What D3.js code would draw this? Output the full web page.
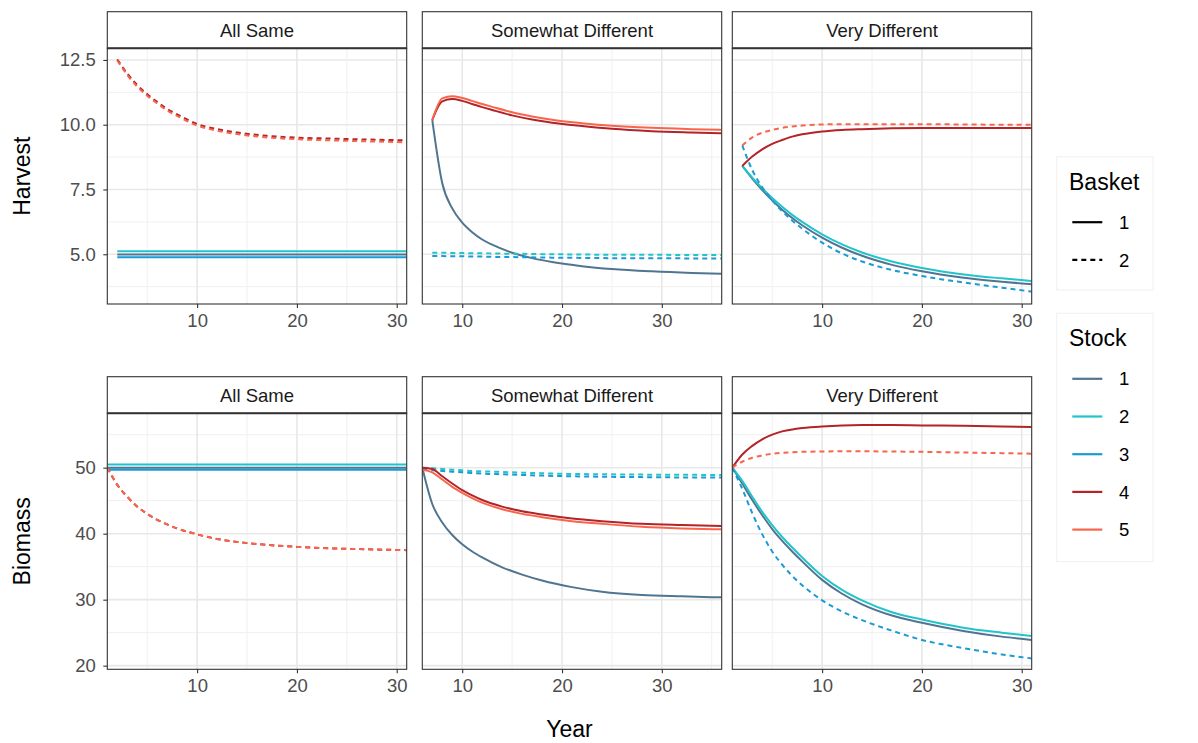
<!DOCTYPE html>
<html>
<head>
<meta charset="utf-8">
<script src="https://cdn.jsdelivr.net/npm/d3@7"></script>
<style>
  body { margin: 0; background: #fff; }
  svg text { font-family: "Liberation Sans", Arial, Helvetica, sans-serif; }
</style>
</head>
<body>
<svg id="chart" width="1198" height="743"></svg>
<script>
// ---- data ----
var scenarios = ["All Same", "Somewhat Different", "Very Different"]
var stocks = ["1", "2", "3", "4", "5"]
var baskets = ["1", "2"]

// basket of stock 1..5 in each scenario
var basketAllSame = ["1", "1", "1", "2", "2"]
var basketSomewhat = ["1", "2", "2", "1", "1"]
var basketVery = ["1", "1", "2", "1", "2"]

var yearsHarvestA = [2, 3, 4, 5, 6, 7, 8, 10, 12, 14, 17, 20, 24, 28, 31]
var yearsBiomassA = [1, 2, 3, 4, 5, 6, 7, 8, 10, 12, 14, 17, 20, 24, 28, 31]
var yearsHarvestB = [7, 8, 9, 10, 11, 12, 13, 15, 17, 19, 22, 25, 29, 33, 36]
var yearsBiomassB = [6, 7, 8, 9, 10, 11, 12, 14, 16, 18, 21, 24, 28, 32, 36]

// one row per stock (1..5)
var harvestAllSame = [
  [4.99, 4.99, 4.99, 4.99, 4.99, 4.99, 4.99, 4.99, 4.99, 4.99, 4.99, 4.99, 4.99, 4.99, 4.99],
  [5.12, 5.12, 5.12, 5.12, 5.12, 5.12, 5.12, 5.12, 5.12, 5.12, 5.12, 5.12, 5.12, 5.12, 5.12],
  [4.88, 4.88, 4.88, 4.88, 4.88, 4.88, 4.88, 4.88, 4.88, 4.88, 4.88, 4.88, 4.88, 4.88, 4.88],
  [12.52, 11.98, 11.53, 11.18, 10.88, 10.61, 10.40, 10.03, 9.83, 9.70, 9.57, 9.50, 9.46, 9.42, 9.40],
  [12.48, 11.92, 11.47, 11.12, 10.82, 10.55, 10.34, 9.97, 9.77, 9.64, 9.51, 9.44, 9.39, 9.35, 9.32]
]
var harvestSomewhat = [
  [10.18, 7.74, 6.77, 6.22, 5.85, 5.57, 5.37, 5.06, 4.85, 4.70, 4.54, 4.43, 4.34, 4.28, 4.25],
  [5.06, 5.06, 5.05, 5.05, 5.04, 5.04, 5.03, 5.02, 5.01, 5.00, 4.99, 4.98, 4.98, 4.97, 4.97],
  [4.93, 4.93, 4.92, 4.92, 4.91, 4.91, 4.90, 4.89, 4.88, 4.87, 4.86, 4.85, 4.85, 4.84, 4.84],
  [10.18, 10.90, 10.99, 10.92, 10.80, 10.68, 10.57, 10.36, 10.20, 10.08, 9.95, 9.84, 9.75, 9.70, 9.67],
  [10.18, 11.02, 11.10, 11.03, 10.92, 10.80, 10.69, 10.48, 10.32, 10.19, 10.06, 9.96, 9.88, 9.83, 9.80]
]
var harvestVery = [
  [8.41, 7.92, 7.48, 7.08, 6.72, 6.40, 6.12, 5.64, 5.25, 4.94, 4.59, 4.34, 4.10, 3.94, 3.84],
  [8.41, 7.96, 7.55, 7.17, 6.83, 6.52, 6.25, 5.77, 5.38, 5.07, 4.72, 4.47, 4.23, 4.07, 3.97],
  [9.20, 8.25, 7.58, 7.08, 6.66, 6.30, 5.99, 5.45, 5.03, 4.72, 4.39, 4.16, 3.92, 3.71, 3.56],
  [8.41, 8.77, 9.05, 9.26, 9.41, 9.54, 9.63, 9.74, 9.80, 9.83, 9.86, 9.87, 9.87, 9.87, 9.87],
  [9.20, 9.51, 9.69, 9.80, 9.88, 9.93, 9.97, 10.01, 10.02, 10.02, 10.02, 10.02, 10.01, 10.00, 10.00]
]

var biomassAllSame = [
  [50.0, 50.0, 50.0, 50.0, 50.0, 50.0, 50.0, 50.0, 50.0, 50.0, 50.0, 50.0, 50.0, 50.0, 50.0, 50.0],
  [50.5, 50.5, 50.5, 50.5, 50.5, 50.5, 50.5, 50.5, 50.5, 50.5, 50.5, 50.5, 50.5, 50.5, 50.5, 50.5],
  [49.7, 49.7, 49.7, 49.7, 49.7, 49.7, 49.7, 49.7, 49.7, 49.7, 49.7, 49.7, 49.7, 49.7, 49.7, 49.7],
  [50.0, 47.4, 45.6, 44.1, 43.0, 42.1, 41.4, 40.8, 39.9, 39.2, 38.75, 38.3, 38.0, 37.75, 37.6, 37.5],
  [50.0, 47.4, 45.6, 44.1, 43.0, 42.1, 41.4, 40.8, 39.9, 39.2, 38.75, 38.3, 38.0, 37.75, 37.6, 37.5]
]
var biomassSomewhat = [
  [50.0, 44.5, 41.7, 39.8, 38.4, 37.3, 36.4, 34.9, 33.8, 32.9, 31.9, 31.2, 30.7, 30.5, 30.35],
  [50.0, 49.9, 49.8, 49.7, 49.6, 49.5, 49.45, 49.35, 49.25, 49.15, 49.05, 49.0, 48.95, 48.92, 48.9],
  [49.7, 49.6, 49.5, 49.4, 49.3, 49.2, 49.1, 49.0, 48.9, 48.8, 48.7, 48.63, 48.57, 48.52, 48.5],
  [50.0, 49.8, 48.7, 47.6, 46.6, 45.8, 45.1, 44.1, 43.4, 42.9, 42.3, 41.9, 41.5, 41.3, 41.15],
  [49.7, 49.3, 48.2, 47.1, 46.2, 45.4, 44.7, 43.7, 43.0, 42.5, 41.9, 41.5, 41.05, 40.8, 40.66]
]
var biomassVery = [
  [50.0, 47.6, 45.1, 42.8, 40.7, 38.9, 37.3, 35.8, 33.0, 30.9, 29.3, 27.6, 26.5, 25.3, 24.4, 23.9],
  [50.0, 48.0, 45.6, 43.3, 41.3, 39.5, 37.9, 36.4, 33.6, 31.5, 29.9, 28.1, 27.0, 25.8, 25.0, 24.5],
  [50.0, 46.8, 43.1, 39.9, 37.3, 35.3, 33.6, 32.2, 29.9, 28.2, 26.9, 25.3, 23.9, 22.7, 21.7, 21.1],
  [50.0, 52.0, 53.3, 54.3, 55.0, 55.5, 55.8, 56.0, 56.25, 56.4, 56.45, 56.45, 56.4, 56.35, 56.25, 56.15],
  [50.0, 50.9, 51.5, 51.85, 52.1, 52.25, 52.35, 52.4, 52.45, 52.48, 52.48, 52.45, 52.4, 52.3, 52.2, 52.12]
]

var harvestLimits = [3.08, 12.95]
var biomassLimits = [19.45, 58.24]
var yearLimits = [[1, 31], [6, 36], [1, 31]]
var harvestTicks = [5, 7.5, 10, 12.5]
var harvestMinor = [3.75, 6.25, 8.75, 11.25]
var biomassTicks = [20, 30, 40, 50]
var biomassMinor = [25, 35, 45, 55]
var yearTicks = [10, 20, 30]
var yearMinor = [5, 15, 25, 35]

// ---- layout ----
var svg = d3.select("#chart")
var colLeft = [107.3, 422.3, 732.3]
var panelW = 299.4
var smallFont = "18.5px"
var titleFont = "23px"
var rows = [
  {name: "Harvest", stripTop: 11.7, top: 48.3, h: 255.7, limits: harvestLimits, ticks: harvestTicks, minor: harvestMinor, fmt: d3.format(".1f"),
   series: [harvestAllSame, harvestSomewhat, harvestVery], years: [yearsHarvestA, yearsHarvestB, yearsHarvestA]},
  {name: "Biomass", stripTop: 376.7, top: 413.3, h: 256, limits: biomassLimits, ticks: biomassTicks, minor: biomassMinor, fmt: d3.format("d"),
   series: [biomassAllSame, biomassSomewhat, biomassVery], years: [yearsBiomassA, yearsBiomassB, yearsBiomassA]}
]
var basketOf = [basketAllSame, basketSomewhat, basketVery]

var color = d3.scaleOrdinal()
  .domain(stocks)
  .range(["#507590", "#22c4cc", "#1a9bd3", "#b22428", "#f8654c"])
var dash = d3.scaleOrdinal()
  .domain(baskets)
  .range(["none", "5,4"])

var styleAxis = function(a) {
  a.select(".domain").remove()
  a.selectAll(".tick line").style("stroke", "#333").style("stroke-width", 1.1)
  a.selectAll(".tick text").style("font-size", smallFont).style("fill", "#4d4d4d")
    .style("font-family", "'Liberation Sans', Arial, sans-serif")
}

var drawPanel = function(r, c) {
  var row = rows[r]
  var x0 = colLeft[c]
  var xScale = d3.scaleLinear().domain(yearLimits[c]).range([x0, x0 + panelW])
  var yScale = d3.scaleLinear().domain(row.limits).range([row.top + row.h, row.top])
  var g = svg.append("g")

  var clipId = "clip-" + r + "-" + c
  svg.append("clipPath").attr("id", clipId)
    .append("rect")
      .attr("x", x0).attr("y", row.top)
      .attr("width", panelW).attr("height", row.h)

  // grid
  g.selectAll(".minor-y").data(row.minor).enter().append("line")
    .attr("x1", x0).attr("x2", x0 + panelW)
    .attr("y1", function(d) { return yScale(d) }).attr("y2", function(d) { return yScale(d) })
    .style("stroke", "#f0f0f0").style("stroke-width", 1)
  g.selectAll(".minor-x").data(yearMinor.filter(function(d) { return d > yearLimits[c][0] && d < yearLimits[c][1] }))
    .enter().append("line")
    .attr("y1", row.top).attr("y2", row.top + row.h)
    .attr("x1", function(d) { return xScale(d) }).attr("x2", function(d) { return xScale(d) })
    .style("stroke", "#f0f0f0").style("stroke-width", 1)
  g.selectAll(".major-y").data(row.ticks).enter().append("line")
    .attr("x1", x0).attr("x2", x0 + panelW)
    .attr("y1", function(d) { return yScale(d) }).attr("y2", function(d) { return yScale(d) })
    .style("stroke", "#e8e8e8").style("stroke-width", 1.6)
  g.selectAll(".major-x").data(yearTicks).enter().append("line")
    .attr("y1", row.top).attr("y2", row.top + row.h)
    .attr("x1", function(d) { return xScale(d) }).attr("x2", function(d) { return xScale(d) })
    .style("stroke", "#e8e8e8").style("stroke-width", 1.6)

  // lines
  var line = d3.line()
    .x(function(d) { return xScale(d.year) })
    .y(function(d) { return yScale(d.value) })
    .curve(d3.curveMonotoneX)
  var years = row.years[c]
  var dataReady = stocks.map(function(s, i) {
    return {
      stock: s,
      basket: basketOf[c][i],
      values: row.series[c][i].map(function(v, j) { return {year: years[j], value: v} })
    }
  })
  g.append("g").attr("clip-path", "url(#" + clipId + ")")
    .selectAll("path")
    .data(dataReady)
    .enter()
    .append("path")
      .attr("d", function(d) { return line(d.values) })
      .style("fill", "none")
      .style("stroke", function(d) { return color(d.stock) })
      .style("stroke-width", 2)
      .style("stroke-dasharray", function(d) { return dash(d.basket) })

  // border + strip
  g.append("rect")
    .attr("x", x0).attr("y", row.top).attr("width", panelW).attr("height", row.h)
    .style("fill", "none").style("stroke", "#333").style("stroke-width", 1.1)
  g.append("rect")
    .attr("x", x0).attr("y", row.stripTop).attr("width", panelW).attr("height", row.top - row.stripTop)
    .style("fill", "#fff").style("stroke", "#333").style("stroke-width", 1.1)
  g.append("line")
    .attr("x1", x0).attr("x2", x0 + panelW).attr("y1", row.top).attr("y2", row.top)
    .style("stroke", "#333").style("stroke-width", 2)
  g.append("text")
    .text(scenarios[c])
    .attr("x", x0 + panelW / 2)
    .attr("y", (row.stripTop + row.top) / 2)
    .attr("dy", "0.36em")
    .attr("text-anchor", "middle")
    .style("font-size", smallFont)
    .style("fill", "#1a1a1a")

  // axes
  var xAxis = d3.axisBottom(xScale).tickValues(yearTicks).tickSize(4).tickPadding(6)
  var ax = svg.append("g").attr("transform", "translate(0," + (row.top + row.h) + ")").call(xAxis)
  styleAxis(ax)
  if (c == 0) {
    var yAxis = d3.axisLeft(yScale).tickValues(row.ticks).tickFormat(row.fmt).tickSize(4).tickPadding(7.5)
    var ay = svg.append("g").attr("transform", "translate(" + x0 + ",0)").call(yAxis)
    styleAxis(ay)
  }
}

rows.forEach(function(row, r) {
  scenarios.forEach(function(s, c) { drawPanel(r, c) })
})

// axis titles
rows.forEach(function(row) {
  svg.append("text")
    .text(row.name)
    .attr("transform", "translate(22," + (row.top + row.h / 2) + ") rotate(-90)")
    .attr("text-anchor", "middle")
    .attr("dy", "0.36em")
    .style("font-size", titleFont)
    .style("fill", "#000")
})
svg.append("text")
  .text("Year")
  .attr("x", (colLeft[0] + colLeft[2] + panelW) / 2)
  .attr("y", 736.5)
  .attr("text-anchor", "middle")
  .style("font-size", titleFont)
  .style("fill", "#000")

// legends
var drawLegend = function(title, keys, top, height, styler) {
  var lg = svg.append("g")
  lg.append("rect")
    .attr("x", 1056.7).attr("y", top).attr("width", 96.3).attr("height", height)
    .style("fill", "#fff").style("stroke", "#f0f0f0").style("stroke-width", 1)
  lg.append("text")
    .text(title)
    .attr("x", 1069).attr("y", top + 33)
    .style("font-size", titleFont)
    .style("fill", "#000")
  var items = lg.selectAll(".item").data(keys).enter().append("g")
    .attr("transform", function(d, i) { return "translate(0," + (top + 65.5 + i * 37.7) + ")" })
  items.append("line")
    .attr("x1", 1072.3).attr("x2", 1102.3)
    .attr("y1", 0).attr("y2", 0)
    .style("stroke-width", 2.2)
    .each(function(d) { styler(d3.select(this), d) })
  items.append("text")
    .text(function(d) { return d })
    .attr("x", 1119).attr("y", 0)
    .attr("dy", "0.36em")
    .style("font-size", smallFont)
    .style("fill", "#000")
}

drawLegend("Basket", baskets, 156.7, 133.3, function(sel, d) {
  sel.style("stroke", "#000").style("stroke-dasharray", dash(d))
})
drawLegend("Stock", stocks, 313.3, 248.4, function(sel, d) {
  sel.style("stroke", color(d))
})
</script>
</body>
</html>
